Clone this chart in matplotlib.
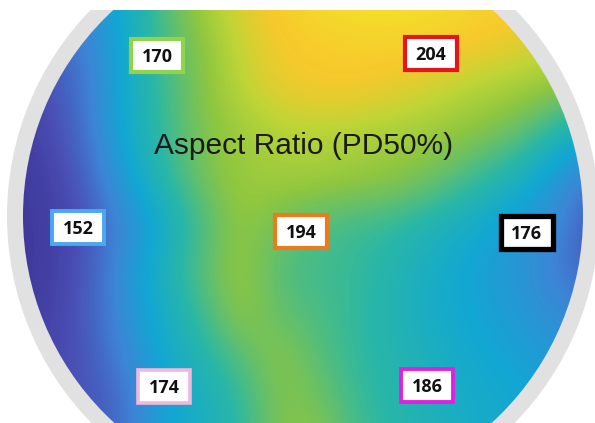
#!/usr/bin/env python3
"""
Wafer map of aspect ratio (PD50%) with the measured site values.
"""

import matplotlib
matplotlib.use('Agg')
import matplotlib.pyplot as plt
import numpy as np
from matplotlib.colors import LinearSegmentedColormap
from matplotlib.patches import Circle, Rectangle

# Map grid (image-like coordinates, y grows downward)
grid_x = [0, 40, 80, 120, 160, 200, 240, 280, 320, 360, 400, 440, 480, 520, 560, 600]
grid_y = [0, 45, 90, 135, 180, 225, 270, 315, 360, 405, 450]

# Relative level (0 = low, 1 = high), one list per grid row
level_y0 = [0.20, 0.22, 0.28, 0.38, 0.55, 0.72, 0.84, 0.90, 0.95, 0.98, 0.98, 0.96, 0.92, 0.90, 0.88, 0.88]
level_y45 = [0.10, 0.15, 0.22, 0.36, 0.55, 0.66, 0.80, 0.88, 0.89, 0.90, 0.90, 0.90, 0.88, 0.85, 0.80, 0.78]
level_y90 = [0.06, 0.10, 0.20, 0.37, 0.52, 0.66, 0.77, 0.86, 0.88, 0.88, 0.85, 0.80, 0.75, 0.72, 0.68, 0.65]
level_y135 = [0.04, 0.08, 0.18, 0.37, 0.51, 0.65, 0.71, 0.75, 0.76, 0.74, 0.72, 0.70, 0.66, 0.60, 0.45, 0.35]
level_y180 = [0.04, 0.06, 0.14, 0.32, 0.47, 0.63, 0.71, 0.72, 0.72, 0.70, 0.68, 0.61, 0.52, 0.42, 0.30, 0.20]
level_y225 = [0.04, 0.05, 0.11, 0.25, 0.38, 0.54, 0.70, 0.62, 0.56, 0.53, 0.50, 0.44, 0.38, 0.32, 0.27, 0.10]
level_y270 = [0.04, 0.05, 0.12, 0.28, 0.43, 0.58, 0.71, 0.57, 0.54, 0.52, 0.46, 0.40, 0.35, 0.31, 0.22, 0.15]
level_y315 = [0.05, 0.06, 0.13, 0.27, 0.40, 0.52, 0.70, 0.60, 0.56, 0.51, 0.45, 0.40, 0.36, 0.32, 0.28, 0.25]
level_y360 = [0.08, 0.09, 0.12, 0.24, 0.38, 0.46, 0.57, 0.69, 0.58, 0.51, 0.47, 0.42, 0.38, 0.35, 0.32, 0.30]
level_y405 = [0.10, 0.11, 0.12, 0.18, 0.34, 0.42, 0.50, 0.66, 0.64, 0.52, 0.48, 0.43, 0.40, 0.38, 0.36, 0.35]
level_y450 = [0.12, 0.13, 0.14, 0.20, 0.36, 0.42, 0.50, 0.68, 0.68, 0.55, 0.48, 0.44, 0.40, 0.38, 0.36, 0.35]

# Measured sites
site_values = [170, 204, 152, 194, 176, 174, 186]
site_x = [157, 431, 78, 301, 527, 164, 427]
site_y = [56, 54, 228, 232, 233, 387, 386]
site_edge = ['#8fd44a', '#e8141c', '#4aa8f0', '#ee7a1e', '#000000', '#f2b8dc', '#e020e0']
site_lw = [3.0, 3.0, 2.8, 3.0, 3.8, 2.6, 2.8]

title_text = 'Aspect Ratio (PD50%)'

# Parula-like colour map
cmap = LinearSegmentedColormap.from_list('wafer', [
    (0.00, '#3a2c8e'),
    (0.12, '#4a4fb5'),
    (0.25, '#3d85d6'),
    (0.37, '#12a7d3'),
    (0.50, '#2ab7a6'),
    (0.68, '#8dc641'),
    (0.78, '#bed537'),
    (0.88, '#f7c92c'),
    (1.00, '#f2ea2a'),
])

levels = np.array([level_y0, level_y45, level_y90, level_y135, level_y180, level_y225,
                   level_y270, level_y315, level_y360, level_y405, level_y450])

fig = plt.figure(figsize=(5.95, 4.23), dpi=100)
ax = fig.add_axes([0, 0, 1, 1])
ax.axis('off')

center = (303, 216)
r_inner = 280
r_outer = 296

# Gray wafer rim
ax.add_patch(Circle(center, r_outer, facecolor='#e1e1e1', edgecolor='none', zorder=1))

# Colour field, clipped to the wafer
dx = grid_x[1] - grid_x[0]
dy = grid_y[1] - grid_y[0]
im = ax.imshow(levels, cmap=cmap, vmin=0, vmax=1, interpolation='bicubic',
               extent=(grid_x[0] - dx / 2, grid_x[-1] + dx / 2, grid_y[-1] + dy / 2, grid_y[0] - dy / 2),
               zorder=2)
im.set_clip_path(Circle(center, r_inner, transform=ax.transData))
ax.set_xlim(0, 595)
ax.set_ylim(423, 0)

# White strip at the top where the picture is cut
ax.axhspan(0, 10, facecolor='white', edgecolor='none', zorder=3)

# Title
ax.text(304, 146, title_text, fontsize=21.5, family='Liberation Sans', color='#1a1a1a',
        ha='center', va='center', zorder=5)

# Site boxes
box_w, box_h = 52, 33
for val, x, y, ec, lw in zip(site_values, site_x, site_y, site_edge, site_lw):
    ax.add_patch(Rectangle((x - box_w / 2, y - box_h / 2), box_w, box_h,
                           facecolor='white', edgecolor=ec, linewidth=lw, zorder=6))
    ax.text(x, y + 1, str(val), fontsize=13, fontweight='bold', family='Open Sans',
            color='#111111', ha='center', va='center', zorder=7)

plt.savefig('out.png', dpi=100)
plt.close()
